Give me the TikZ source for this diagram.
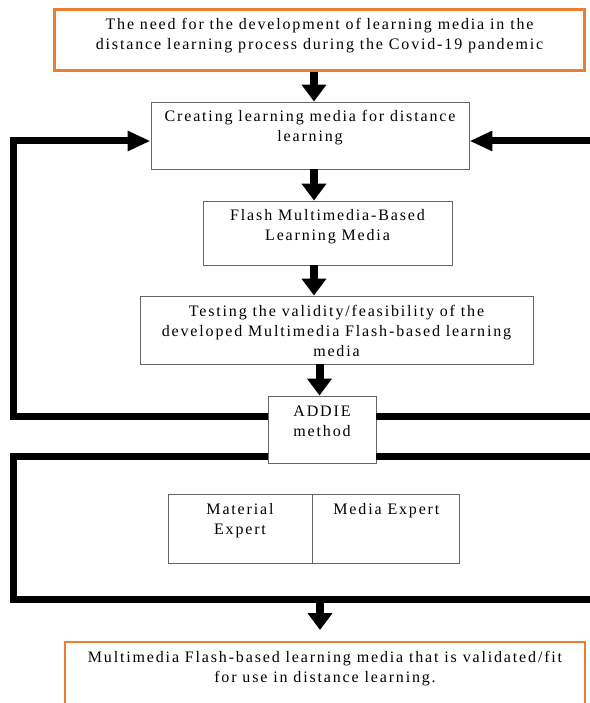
\documentclass[tikz,border=0pt]{standalone}
\usepackage{fontspec}
\setmainfont[LetterSpace=11.5]{Liberation Serif}
\usetikzlibrary{arrows.meta,positioning}
\definecolor{boxorange}{RGB}{237,125,49}
\tikzset{
  stage/.style={draw=black!60, line width=0.9pt, inner sep=0pt, fill=white},
  goal/.style={draw=boxorange, line width=2.5pt, inner sep=0pt, fill=white},
  flow/.style={line width=8pt, -{Triangle[length=17pt,width=24pt]}},
  loopline/.style={line width=7pt},
  loopin/.style={loopline, -{Triangle[length=23pt,width=19pt]}}
}
% text sits at the top of each box
\newcommand{\boxtext}[3]{\parbox[t][#2][t]{#1}{\centering\rule{0pt}{20pt}#3}}

\begin{document}
\begin{tikzpicture}[x=1pt,y=-1pt,font=\fontsize{16pt}{20pt}\selectfont]
  \useasboundingbox (0,0) rectangle (589,703);

  \node[goal] (need) at (319.5,40) {\boxtext{530pt}{61.4pt}{The need for the development of learning media in the\\ distance learning process during the Covid-19 pandemic}};
  \node[stage] (create) at (310,135.5) {\boxtext{318pt}{67pt}{Creating learning media for distance\\ learning}};
  \node[stage] (flash) at (327.5,233) {\boxtext{249pt}{64pt}{Flash Multimedia-Based\\ Learning Media}};
  \node[stage] (test) at (336.5,330) {\boxtext{393pt}{68pt}{Testing the validity/feasibility of the\\ developed Multimedia Flash-based learning\\ media}};
  \node[stage] (addie) at (322,429.5) {\boxtext{108pt}{67pt}{ADDIE\\ method}};
  \node[stage] (material) at (240,528.5) {\boxtext{144pt}{69pt}{Material\\ Expert}};
  \node[stage, right=0pt of material] (media) {\boxtext{147pt}{69pt}{Media Expert}};
  \node[goal] (result) at (325,681) {\boxtext{520pt}{78pt}{Multimedia Flash-based learning media that is validated/fit\\ for use in distance learning.}};

  \coordinate (colA) at (314,0);
  \coordinate (colB) at (319.5,0);
  \coordinate (upL) at (13,141);
  \coordinate (upR) at (600,141);
  \coordinate (midL) at (13,416.5);
  \coordinate (midR) at (600,416.5);
  \coordinate (lowL) at (13,456);
  \coordinate (lowR) at (600,456);
  \coordinate (botL) at (13,599.5);
  \coordinate (botR) at (600,599.5);
  \coordinate (tip) at (320,630);

  \draw[flow] (need.south -| colA) -- (create.north -| colA);
  \draw[flow] (create.south -| colA) -- (flash.north -| colA);
  \draw[flow] (flash.south -| colA) -- (test.north -| colA);
  \draw[flow] (test.south -| colB) -- (addie.north -| colB);

  \draw[loopin] (addie.west |- midL) -- (midL) -- (upL) -- (create.west |- upL);
  \draw[loopin] (upR) -- (create.east |- upR);
  \draw[loopline] (addie.east |- midR) -- (midR);
  \draw[loopline] (addie.west |- lowL) -- (lowL) -- (botL) -- (botR);
  \draw[loopline] (addie.east |- lowR) -- (lowR);
  \draw[flow] (tip |- botL) -- (tip);
\end{tikzpicture}
\end{document}
